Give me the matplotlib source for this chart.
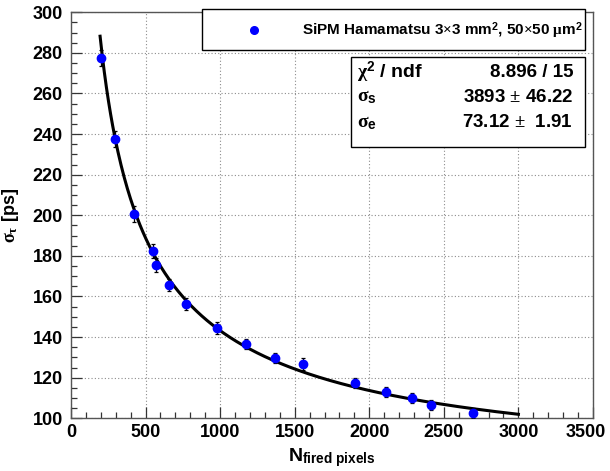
import numpy as np
import matplotlib
matplotlib.use("Agg")
import matplotlib.pyplot as plt
from matplotlib.patches import Rectangle
from matplotlib.ticker import MultipleLocator, FuncFormatter

n_fired = [199, 295, 422, 547, 568, 655, 771, 976, 1173, 1370, 1553, 1903, 2113, 2286, 2411, 2697]
sigma_t = [277.3, 237.6, 200.5, 182.6, 175.5, 165.7, 156.2, 144.6, 136.6, 129.7, 126.8, 117.2, 112.9, 109.8, 106.6, 102.5]
sigma_err = [4.0, 4.0, 4.0, 3.5, 3.5, 3.0, 3.0, 3.0, 2.5, 2.5, 3.0, 2.5, 2.5, 2.5, 2.5, 2.5]

# fit result shown in the stats box
sigma_s = 3893.0
sigma_e = 73.12
fit_range = (195, 3000)

x_max = 3500
legend_label = r"SiPM Hamamatsu 3$\times$3 mm$^\mathbf{2}$, 50$\times$50 $\mu$m$^\mathbf{2}$"
stats_names = [r"$\chi^\mathbf{2}$ / ndf", r"$\sigma_\mathbf{s}$", r"$\sigma_\mathbf{e}$"]
stats_values = ["8.896 / 15", "3893 $\\pm$ 46.22", "73.12 $\\pm$  1.91"]

plt.rcParams["font.family"] = ["Liberation Sans", "DejaVu Sans"]
plt.rcParams["font.weight"] = "bold"
plt.rcParams["mathtext.fontset"] = "custom"
plt.rcParams["mathtext.rm"] = "Liberation Serif"
plt.rcParams["mathtext.it"] = "Liberation Serif:italic"
plt.rcParams["mathtext.bf"] = "Liberation Sans:bold"
plt.rcParams["mathtext.sf"] = "Liberation Sans"
plt.rcParams["mathtext.default"] = "rm"

fig = plt.figure(figsize=(6.10, 4.71), dpi=100)
ax = fig.add_axes([0.1164, 0.1119, 0.8557, 0.8620])

# fit curve
nn = np.linspace(fit_range[0], fit_range[1], 400)
fit = np.sqrt((sigma_s / np.sqrt(nn)) ** 2 + sigma_e ** 2)
ax.plot(nn, fit, color="black", lw=2.2, zorder=3)

ax.errorbar(n_fired, sigma_t, yerr=sigma_err, fmt="o", color=(0, 0, 1), ms=6,
            ecolor="black", elinewidth=0.9, capsize=1.5, capthick=0.9, zorder=4)

ax.set_xlim(0, x_max)
ax.set_ylim(100, 300)
ax.xaxis.set_major_locator(MultipleLocator(500))
ax.xaxis.set_minor_locator(MultipleLocator(100))
ax.yaxis.set_major_locator(MultipleLocator(20))
ax.yaxis.set_minor_locator(MultipleLocator(5))
# the last x label is drawn separately, pulled in a little so it fits the canvas
ax.xaxis.set_major_formatter(FuncFormatter(lambda v, p: "" if v >= x_max else f"{v:.0f}"))
ax.tick_params(which="both", direction="in", labelsize=13, width=0.9, color="#333333")
ax.tick_params(which="major", length=8, pad=4)
ax.tick_params(which="minor", length=4.5)
ax.tick_params(axis="y", pad=6)
ax.grid(True, which="major", color="#8c8c8c", lw=0.8, linestyle=(0, (1, 2)))
ax.set_axisbelow(True)
for sp in ax.spines.values():
    sp.set_color("#555555")
    sp.set_linewidth(1.0)
ax.annotate(f"{x_max}", xy=(x_max, 100), xytext=(-5, -4), textcoords="offset points",
            ha="center", va="top", fontsize=13, fontweight="bold", annotation_clip=False)

ax.set_xlabel(r"N$_\mathbf{fired\ pixels}$", fontsize=14, fontweight="bold", labelpad=4)
ax.set_ylabel(r"$\sigma_\tau$ [ps]", fontsize=13, fontweight="bold", labelpad=8)

# legend box
ax.add_patch(Rectangle((0.251, 0.907), 0.734, 0.100, transform=ax.transAxes,
                       facecolor="white", edgecolor="black", lw=1.0, clip_on=False, zorder=5))
ax.plot([0.351], [0.957], "o", color=(0, 0, 1), ms=5.5, transform=ax.transAxes,
        clip_on=False, zorder=6)
ax.text(0.980, 0.955, legend_label, transform=ax.transAxes, ha="right", va="center",
        fontsize=11, fontweight="bold", zorder=6)

# stats box
ax.add_patch(Rectangle((0.536, 0.668), 0.449, 0.222, transform=ax.transAxes,
                       facecolor="white", edgecolor="black", lw=1.0, zorder=5))
rows_y = [0.852, 0.791, 0.728]
for name, val, yy in zip(stats_names, stats_values, rows_y):
    ax.text(0.548, yy, name, transform=ax.transAxes, ha="left", va="center",
            fontsize=14, fontweight="bold", zorder=6)
    ax.text(0.962, yy, val, transform=ax.transAxes, ha="right", va="center",
            fontsize=13.5, fontweight="bold", zorder=6)

fig.savefig("out.png", dpi=100)
